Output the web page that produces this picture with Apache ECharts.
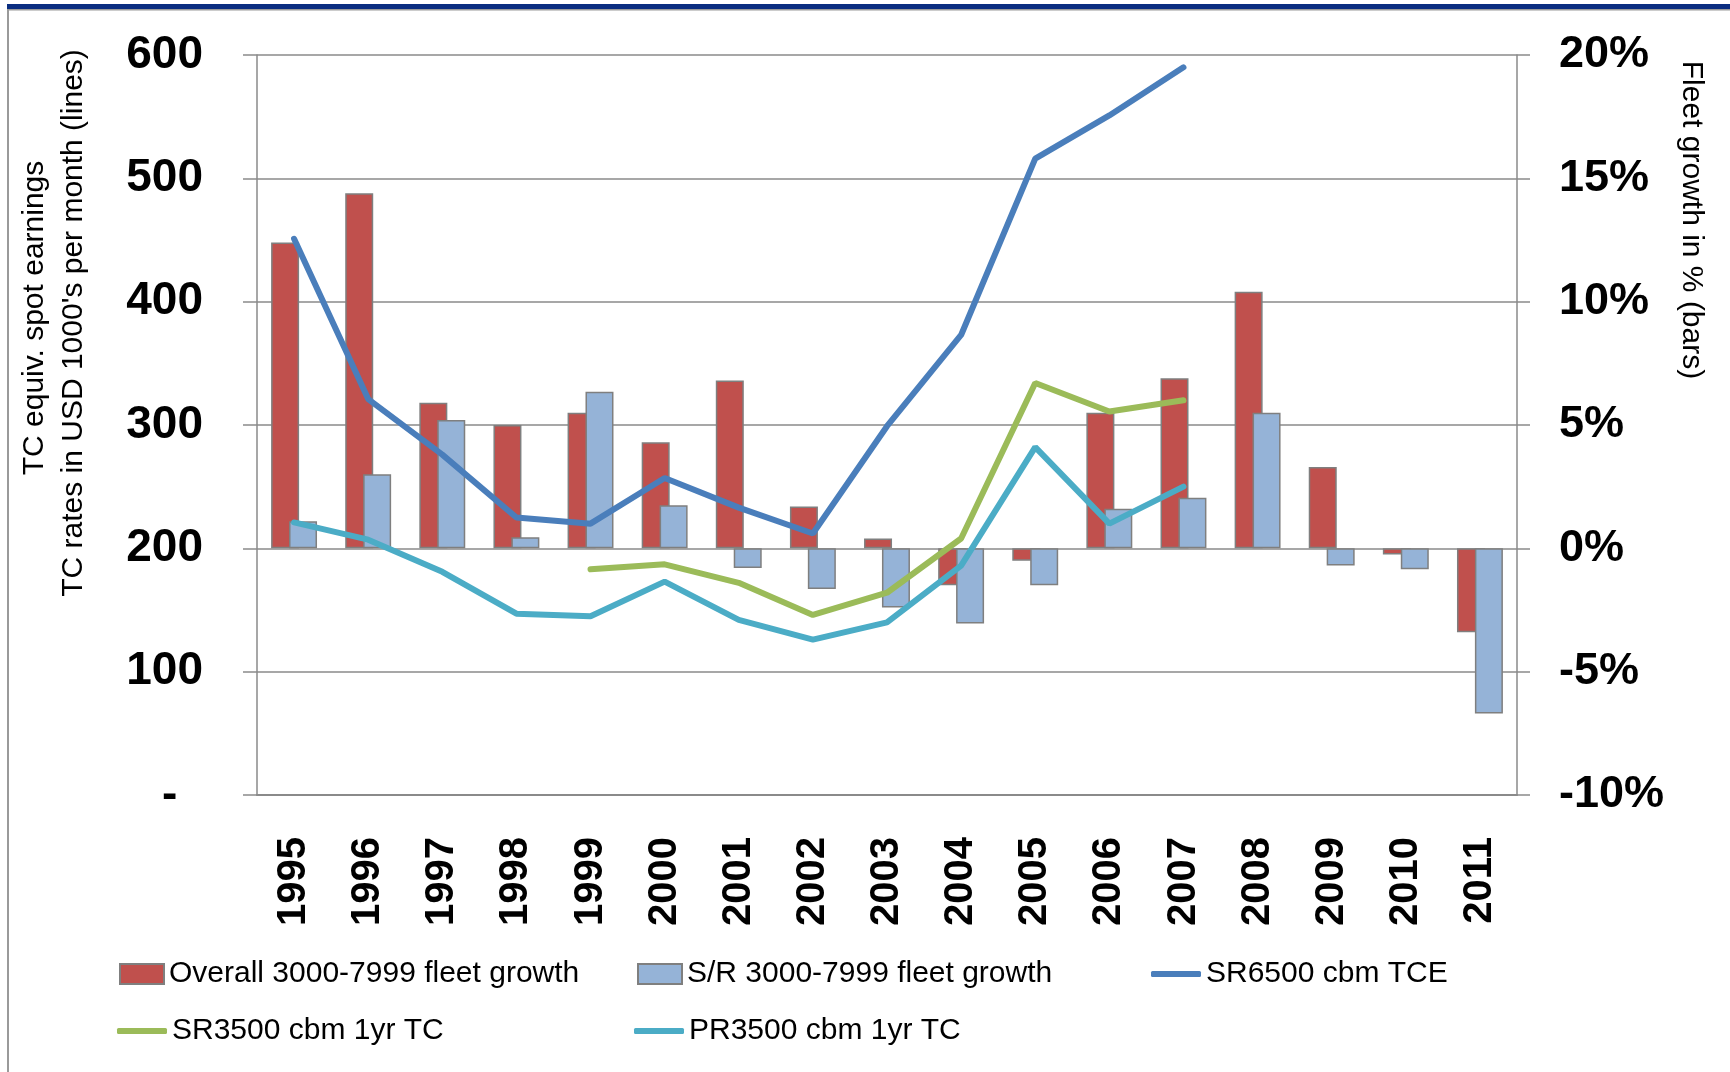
<!DOCTYPE html>
<html>
<head>
<meta charset="utf-8">
<title>Fleet growth and TC rates</title>
<script src="https://cdn.jsdelivr.net/npm/echarts@6/dist/echarts.min.js"></script>
<style>
  html, body { margin: 0; padding: 0; background: #fff; }
  #chart { width: 1730px; height: 1072px; }
</style>
</head>
<body>
<div id="chart"></div>
<script>
  var years = ['1995', '1996', '1997', '1998', '1999', '2000', '2001', '2002', '2003',
    '2004', '2005', '2006', '2007', '2008', '2009', '2010', '2011'];

  // fleet growth in % (bars, right axis)
  var overallGrowth = [12.4, 14.4, 5.9, 5.0, 5.5, 4.3, 6.8, 1.7, 0.4,
    -1.5, -0.5, 5.5, 6.9, 10.4, 3.3, -0.25, -3.4];
  var srGrowth = [1.1, 3.0, 5.2, 0.45, 6.35, 1.75, -0.8, -1.65, -2.4,
    -3.05, -1.5, 1.6, 2.05, 5.5, -0.7, -0.85, -6.7];

  // TC rates in USD 1000's per month (lines, left axis)
  var sr6500 = [451, 321, 276, 225, 220, 257, 233, 212, 299,
    373, 516, 551, 590, null, null, null, null];
  var sr3500 = [null, null, null, null, 183, 187, 172, 146, 164,
    208, 334, 311, 320, null, null, null, null];
  var pr3500 = [221, 207, 181, 147, 145, 173, 142, 126, 140,
    186, 282, 220, 250, null, null, null, null];

  var leftTicks = { min: 0, max: 600, interval: 100 };
  var rightTicks = { min: -10, max: 20, interval: 5 };

  var gridColor = '#8a8a8a';
  var barBorder = '#7f7f7f';
  var legendFont = { fontFamily: 'Liberation Sans', fontSize: 30, color: '#000' };

  var chart = echarts.init(document.getElementById('chart'));

  function legendAt(name, left, top, icon, w, h) {
    return {
      data: [name],
      left: left,
      top: top,
      padding: 0,
      icon: icon,
      itemWidth: w,
      itemHeight: h,
      textStyle: legendFont
    };
  }

  chart.setOption({
    animation: false,
    backgroundColor: '#fff',
    grid: { left: 257, right: 213, top: 55, bottom: 277 },
    legend: [
      legendAt('Overall 3000-7999 fleet growth', 119, 959, 'rect', 44, 20),
      legendAt('S/R 3000-7999 fleet growth', 637, 959, 'rect', 44, 20),
      legendAt('SR6500 cbm TCE', 1151, 959, 'roundRect', 50, 6),
      legendAt('SR3500 cbm 1yr TC', 117, 1016, 'roundRect', 50, 6),
      legendAt('PR3500 cbm 1yr TC', 634, 1016, 'roundRect', 50, 6)
    ],
    graphic: [
      // frame: navy top rule, grey border
      { type: 'rect', shape: { x: 7, y: 4, width: 1723, height: 5 }, style: { fill: '#0a2d80' } },
      { type: 'rect', shape: { x: 7, y: 9, width: 1723, height: 1.5 }, style: { fill: '#9a9a9a' } },
      { type: 'rect', shape: { x: 7, y: 9, width: 2, height: 1063 }, style: { fill: '#9a9a9a' } },
      {
        type: 'text', x: 35, y: 318, rotation: Math.PI / 2,
        style: { text: 'TC equiv. spot earnings', font: '30px "Liberation Sans"', fill: '#000', align: 'center', verticalAlign: 'middle' }
      },
      {
        type: 'text', x: 74, y: 323, rotation: Math.PI / 2,
        style: { text: "TC rates in USD 1000's per month (lines)", font: '30px "Liberation Sans"', fill: '#000', align: 'center', verticalAlign: 'middle' }
      },
      {
        type: 'text', x: 1691, y: 220, rotation: -Math.PI / 2,
        style: { text: 'Fleet growth in % (bars)', font: '30px "Liberation Sans"', fill: '#000', align: 'center', verticalAlign: 'middle' }
      }
    ],
    xAxis: {
      type: 'category',
      data: years,
      axisLine: { onZero: false, lineStyle: { color: gridColor, width: 2 } },
      axisTick: { length: 13, lineStyle: { color: gridColor, width: 1.5 } },
      axisLabel: {
        rotate: 90,
        margin: 42,
        interval: 0,
        color: '#000',
        fontFamily: 'Liberation Sans',
        fontWeight: 'bold',
        fontSize: 40
      }
    },
    yAxis: [
      {
        type: 'value',
        min: leftTicks.min,
        max: leftTicks.max,
        interval: leftTicks.interval,
        axisLine: { show: true, lineStyle: { color: gridColor, width: 1.5 } },
        axisTick: { show: true, length: 14, lineStyle: { color: gridColor, width: 1.5 } },
        splitLine: { show: true, lineStyle: { color: gridColor, width: 1.5 } },
        axisLabel: {
          margin: 54,
          color: '#000',
          fontFamily: 'Liberation Sans',
          fontWeight: 'bold',
          fontSize: 46,
          formatter: function (v) { return v === 0 ? '-  ' : v; }
        }
      },
      {
        type: 'value',
        position: 'right',
        min: rightTicks.min,
        max: rightTicks.max,
        interval: rightTicks.interval,
        axisLine: { show: true, lineStyle: { color: gridColor, width: 1.5 } },
        axisTick: { show: true, length: 13, lineStyle: { color: gridColor, width: 1.5 } },
        splitLine: { show: false },
        axisLabel: {
          margin: 42,
          color: '#000',
          fontFamily: 'Liberation Sans',
          fontWeight: 'bold',
          fontSize: 45,
          formatter: '{value}%'
        }
      }
    ],
    series: [
      {
        name: 'Overall 3000-7999 fleet growth',
        type: 'bar',
        yAxisIndex: 1,
        barWidth: 28,
        barGap: '-36%',
        itemStyle: { color: '#c0504d', borderColor: barBorder, borderWidth: 1.5 },
        data: overallGrowth
      },
      {
        name: 'S/R 3000-7999 fleet growth',
        type: 'bar',
        yAxisIndex: 1,
        barWidth: 28,
        barGap: '-36%',
        itemStyle: { color: '#95b3d7', borderColor: barBorder, borderWidth: 1.5 },
        data: srGrowth
      },
      {
        name: 'SR6500 cbm TCE',
        type: 'line',
        yAxisIndex: 0,
        symbol: 'none',
        itemStyle: { color: '#4a7ebb' },
        lineStyle: { color: '#4a7ebb', width: 6, cap: 'round' },
        data: sr6500
      },
      {
        name: 'SR3500 cbm 1yr TC',
        type: 'line',
        yAxisIndex: 0,
        symbol: 'none',
        itemStyle: { color: '#9bbb59' },
        lineStyle: { color: '#9bbb59', width: 6, cap: 'round' },
        data: sr3500
      },
      {
        name: 'PR3500 cbm 1yr TC',
        type: 'line',
        yAxisIndex: 0,
        symbol: 'none',
        itemStyle: { color: '#4bacc6' },
        lineStyle: { color: '#4bacc6', width: 6, cap: 'round' },
        data: pr3500
      }
    ]
  });
</script>
</body>
</html>
